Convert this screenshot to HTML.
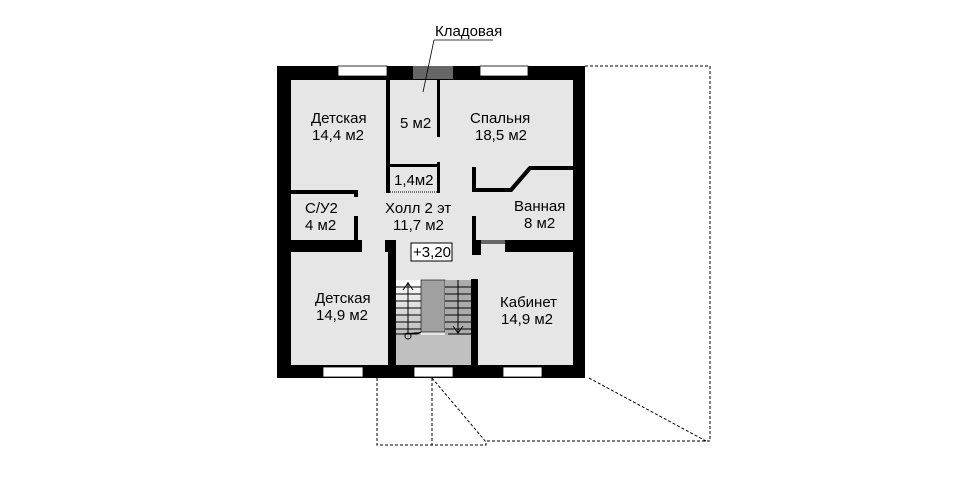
<!DOCTYPE html><html><head><meta charset="utf-8"><style>body{margin:0;background:#fff}svg{display:block}text{font-family:"Liberation Sans",sans-serif;font-size:15px;fill:#000}</style></head><body>
<svg width="970" height="500" viewBox="0 0 970 500">
<defs><linearGradient id="g" x1="0" y1="0" x2="0" y2="1"><stop offset="0" stop-color="#fff"/><stop offset="1" stop-color="#bbb"/></linearGradient></defs>
<rect x="291" y="80" width="282" height="285" fill="#e6e6e6"/>
<rect x="396" y="335" width="75" height="30" fill="#c0c0c0"/>
<rect x="396" y="280" width="25" height="55" fill="url(#g)"/>
<rect x="421" y="280" width="24" height="52" fill="#a0a0a0" stroke="#000" stroke-width="0.6"/>
<rect x="445" y="280" width="26" height="55" fill="#ababab"/>
<g stroke="#000" stroke-width="1">
<path d="M396 287H421M396 294H421M396 301H421M396 308H421M396 315H421M396 322H421M396 329H421M408 282V334M396 334H418L421 332"/>
<path d="M445 287H471M445 294H471M445 301H471M445 308H471M445 315H471M445 322H471M445 329H471M458 280V334M448 334H471"/>
<path d="M403 290L408 283L413 290M453 326L458 333L463 326" fill="none"/>
<circle cx="408" cy="336" r="3" fill="none"/>
</g>
<g fill="#000">
<rect x="277" y="66" width="308" height="14"/>
<rect x="277" y="66" width="14" height="312"/>
<rect x="573" y="66" width="12" height="312"/>
<rect x="277" y="365" width="308" height="13"/>
<rect x="386" y="80" width="4" height="113"/>
<rect x="437" y="80" width="3" height="57"/>
<rect x="388" y="164" width="52" height="3"/>
<rect x="437" y="162" width="3" height="31"/>
<rect x="291" y="190" width="66" height="4"/>
<rect x="354" y="190" width="4" height="7"/>
<rect x="354" y="216" width="4" height="25"/>
<rect x="277" y="240" width="85" height="12"/>
<rect x="385" y="240" width="11" height="12"/>
<rect x="388" y="240" width="8" height="125"/>
<rect x="471" y="279" width="7" height="86"/>
<rect x="472" y="240" width="9" height="15"/>
<rect x="505" y="240" width="80" height="12"/>
<rect x="472" y="216" width="4" height="25"/>
<rect x="472" y="167" width="4" height="24"/>
<path d="M472 188H510L529 166H573V170H531L512 192H472Z"/>
</g>
<rect x="481" y="240" width="24" height="4" fill="#666"/>
<rect x="413" y="66" width="40" height="13" fill="#666"/>
<line x1="390" y1="192" x2="437" y2="192" stroke="#000" stroke-dasharray="1,1"/>
<g fill="#fff" stroke="#000" stroke-width="0.8">
<rect x="338" y="66" width="49" height="10"/>
<rect x="480" y="66" width="48" height="10"/>
<rect x="323" y="367" width="40" height="10"/>
<rect x="414" y="367" width="39" height="10"/>
<rect x="503" y="367" width="39" height="10"/>
</g>
<g fill="none" stroke="#000" stroke-width="1" stroke-dasharray="3,2">
<path d="M585 66H710V441H487"/>
<path d="M589 378L706 441"/>
<path d="M377 378V445H486V441"/>
<path d="M432 378V445M432 378L486 442"/>
</g>
<path d="M434 40H493M434 40L423 92" stroke="#000" fill="none" stroke-width="0.8"/>
<text x="435" y="36">Кладовая</text>
<text x="311" y="123">Детская</text><text x="312" y="140">14,4 м2</text>
<text x="400" y="128">5 м2</text>
<text x="470" y="123">Спальня</text><text x="475" y="140">18,5 м2</text>
<text x="394" y="185">1,4м2</text>
<text x="305" y="213">С/У2</text><text x="305" y="230">4 м2</text>
<text x="385" y="213">Холл 2 эт</text><text x="393" y="230">11,7 м2</text>
<text x="514" y="211">Ванная</text><text x="524" y="228">8 м2</text>
<rect x="411" y="243" width="41" height="18" fill="#fff" stroke="#000"/>
<text x="413" y="257">+3,20</text>
<text x="315" y="303">Детская</text><text x="316" y="320">14,9 м2</text>
<text x="500" y="307">Кабинет</text><text x="501" y="324">14,9 м2</text>
</svg></body></html>
